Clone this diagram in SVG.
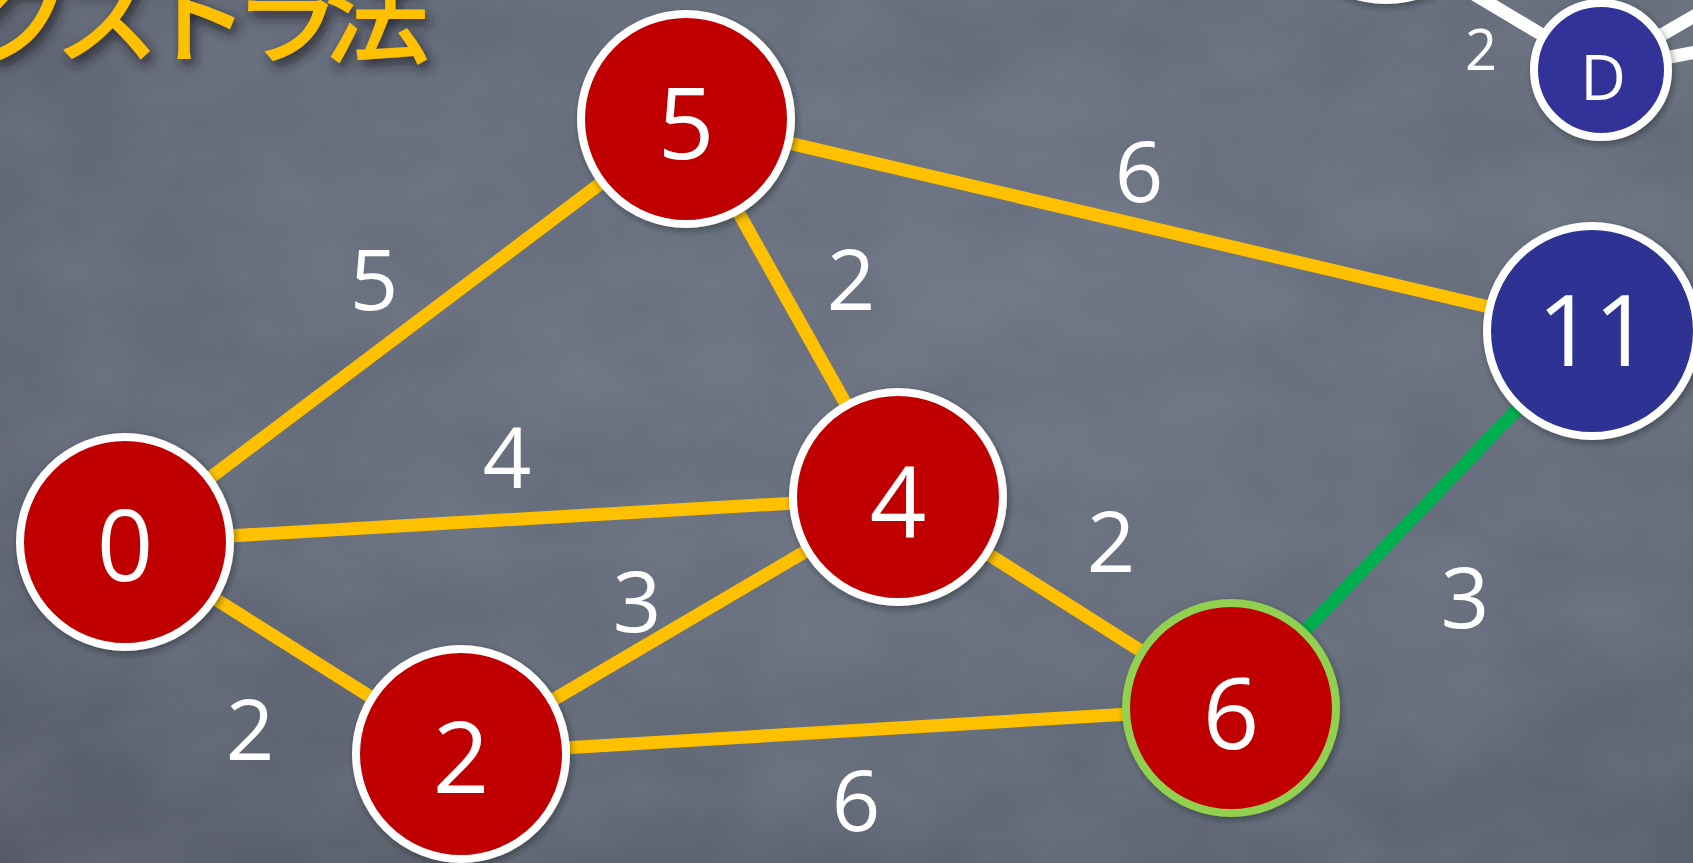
<svg xmlns="http://www.w3.org/2000/svg" width="1693" height="863" viewBox="0 0 1693 863">
  <defs>
    <radialGradient id="bg" cx="0.6" cy="0.35" r="0.85">
      <stop offset="0" stop-color="#666d7d"/>
      <stop offset="0.6" stop-color="#5e6574"/>
      <stop offset="1" stop-color="#4f5461"/>
    </radialGradient>
    <filter id="noise" x="0" y="0" width="100%" height="100%">
      <feTurbulence type="fractalNoise" baseFrequency="0.9" numOctaves="2" seed="3" result="n"/>
      <feColorMatrix type="matrix" values="0 0 0 0 1  0 0 0 0 1  0 0 0 0 1  0 0 0 0.07 0"/>
    </filter>
    <filter id="blotch" x="0" y="0" width="100%" height="100%">
      <feTurbulence type="fractalNoise" baseFrequency="0.008 0.012" numOctaves="3" seed="7"/>
      <feColorMatrix type="matrix" values="0 0 0 0 0.45  0 0 0 0 0.48  0 0 0 0 0.55  0 0 0 0.2 -0.05"/>
    </filter>
    <filter id="tshadow" x="-10%" y="-50%" width="130%" height="200%">
      <feDropShadow dx="4" dy="6" stdDeviation="6" flood-color="#1d2027" flood-opacity="0.85"/>
    </filter>
    <filter id="nshadow" x="-20%" y="-20%" width="140%" height="140%">
      <feDropShadow dx="2" dy="3" stdDeviation="3" flood-color="#1d2027" flood-opacity="0.45"/>
    </filter>
    <style>
      .edge { stroke: #FFC000; stroke-width: 13; fill: none; }
      .edge-green { stroke: #00B050; stroke-width: 13; fill: none; }
      .edge-white { stroke: #FFFFFF; stroke-width: 13; fill: none; }
      .red { fill: #C00000; stroke: #FFFFFF; stroke-width: 8; filter: url(#nshadow); }
      .red-done { fill: #C00000; stroke: #92D050; stroke-width: 8; filter: url(#nshadow); }
      .blue { fill: #2E3192; stroke: #FFFFFF; stroke-width: 8; filter: url(#nshadow); }
      .nlabel { font-family: "Open Sans", "Noto Sans", "Liberation Sans", sans-serif; font-size: 99px; fill: #FFFFFF; text-anchor: middle; }
      .elabel { font-family: "Open Sans", "Noto Sans", "Liberation Sans", sans-serif; font-size: 85px; fill: #FFFFFF; text-anchor: middle; }
      .title { font-family: "Noto Sans CJK JP", "Noto Sans CJK SC", sans-serif; font-size: 106px; font-weight: 500; letter-spacing: -16px; fill: #FFC000; filter: url(#tshadow); }
    </style>
  </defs>

  <rect x="0" y="0" width="1693" height="863" fill="url(#bg)"/>
  <rect x="0" y="0" width="1693" height="863" filter="url(#blotch)"/>
  <rect x="0" y="0" width="1693" height="863" filter="url(#noise)"/>

  <text class="title" x="-211" y="55">ダイクストラ法</text>

  <g id="connectors">
    <line class="edge" x1="125" y1="542" x2="686" y2="119"/>
    <line class="edge" x1="125" y1="542" x2="898" y2="497"/>
    <line class="edge" x1="125" y1="542" x2="461" y2="754"/>
    <line class="edge" x1="461" y1="754" x2="898" y2="497"/>
    <line class="edge" x1="461" y1="754" x2="1231" y2="708"/>
    <line class="edge" x1="686" y1="119" x2="898" y2="497"/>
    <line class="edge" x1="898" y1="497" x2="1231" y2="708"/>
    <line class="edge" x1="686" y1="119" x2="1592" y2="331"/>
    <line class="edge-green" x1="1231" y1="708" x2="1592" y2="331"/>
    <line class="edge-white" x1="1601" y1="70" x2="1400" y2="-50"/>
    <line class="edge-white" x1="1601" y1="70" x2="1760" y2="-22"/>
    <line class="edge-white" x1="1601" y1="70" x2="1760" y2="40"/>
  </g>

  <g id="edge-labels">
    <text class="elabel" x="374" y="310">5</text>
    <text class="elabel" x="507" y="488">4</text>
    <text class="elabel" x="250" y="760">2</text>
    <text class="elabel" x="637" y="632">3</text>
    <text class="elabel" x="856" y="831">6</text>
    <text class="elabel" x="1111" y="572">2</text>
    <text class="elabel" x="1465" y="628">3</text>
    <text class="elabel" x="851" y="310">2</text>
    <text class="elabel" x="1139" y="202">6</text>
    <text class="elabel" x="1481" y="70" style="font-size:56px">2</text>
  </g>

  <g id="node-top">
    <circle class="blue" cx="1386" cy="-106" r="106"/>
  </g>
  <g id="node-D">
    <circle class="blue" cx="1601" cy="70" r="67" style="fill:#333399"/>
    <text class="nlabel" x="1603" y="100" style="font-size:63px">D</text>
  </g>
  <g id="node-0">
    <circle class="red" cx="125" cy="542" r="105"/>
    <text class="nlabel" x="125" y="581">0</text>
  </g>
  <g id="node-5">
    <circle class="red" cx="686" cy="119" r="105"/>
    <text class="nlabel" x="686" y="159">5</text>
  </g>
  <g id="node-4">
    <circle class="red" cx="898" cy="497" r="105"/>
    <text class="nlabel" x="898" y="537">4</text>
  </g>
  <g id="node-2">
    <circle class="red" cx="461" cy="754" r="105"/>
    <text class="nlabel" x="461" y="793">2</text>
  </g>
  <g id="node-6">
    <circle class="red-done" cx="1231" cy="708" r="105"/>
    <text class="nlabel" x="1231" y="749">6</text>
  </g>
  <g id="node-11">
    <circle class="blue" cx="1592" cy="331" r="105"/>
    <text class="nlabel" x="1594" y="366">11</text>
  </g>
</svg>
